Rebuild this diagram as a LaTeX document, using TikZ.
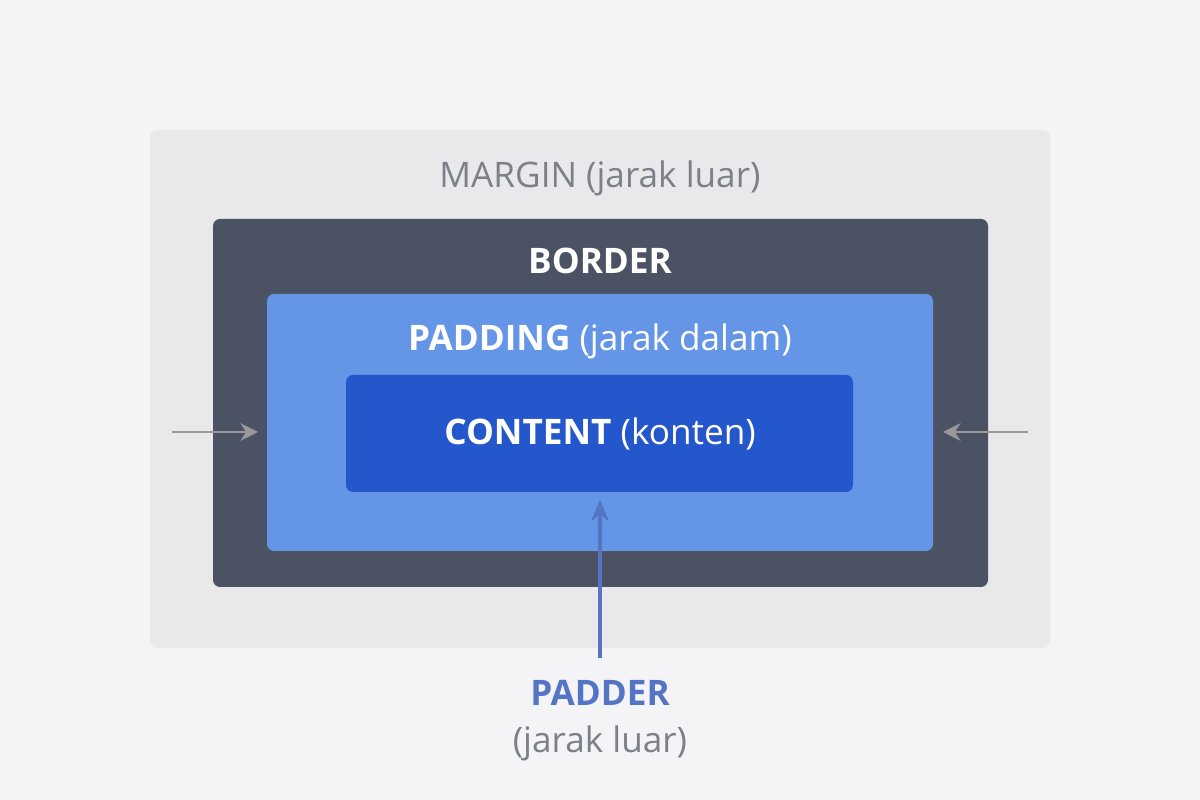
\documentclass[tikz,border=0pt]{standalone}
\usepackage{fontspec}
\setmainfont{Open Sans}
\usetikzlibrary{arrows.meta,positioning}
\definecolor{bgcol}{HTML}{F4F4F7}
\definecolor{margincol}{HTML}{E9E9EC}
\definecolor{bordercol}{HTML}{4B5263}
\definecolor{paddingcol}{HTML}{6495E6}
\definecolor{contentcol}{HTML}{2456CC}
\definecolor{graytext}{HTML}{7B8089}
\definecolor{pointcol}{HTML}{5474C4}
\tikzset{
  box/.style={rounded corners=2pt},
  label/.style={font=\fontsize{10}{12}\selectfont},
  gray arrow/.style={draw=gray!80, line width=0.6pt, -{Stealth[length=5pt,width=5pt]}},
}
\begin{document}
\begin{tikzpicture}
            \fill[bgcol] (0,0) rectangle (12,8);
            \useasboundingbox (0,0) rectangle (12,8);
            \fill[margincol,box] (1.5,1.52) rectangle (10.5,6.7);
            \fill[bordercol,box] (2.13,2.13) rectangle (9.88,5.81);
            \fill[paddingcol,box] (2.67,2.49) rectangle (9.33,5.06);
            \fill[contentcol,box] (3.46,3.08) rectangle (8.53,4.25);
            \node[label,text=graytext] (margin) at (6,6.22) {MARGIN (jarak luar)};
            \node[label,text=white] (border) at (6,5.39) {\bfseries BORDER};
            \node[label,text=white] (padding) at (6,4.59) {\bfseries PADDING\mdseries{} (jarak dalam)};
            \node[label,text=white] (content) at (6,3.66) {\bfseries CONTENT\mdseries{} (konten)};
            \node[label,text=pointcol] (padder) at (6,1.07) {\bfseries PADDER};
            \node[label,text=graytext,below=-0.05 of padder] (luar) {(jarak luar)};
            \coordinate (lstart) at (1.72,3.68);
            \coordinate (lend) at (2.58,3.68);
            \coordinate (rstart) at (10.28,3.68);
            \coordinate (rend) at (9.43,3.68);
            \coordinate (ptip) at (6,3.0);
            \draw[gray arrow] (lstart) -- (lend);
            \draw[gray arrow] (rstart) -- (rend);
            \draw[pointcol,line width=0.9pt,-{Stealth[length=6pt,width=5pt]}] (padder.north) ++(0,0.1) -- (ptip);
        \end{tikzpicture}
\end{document}
